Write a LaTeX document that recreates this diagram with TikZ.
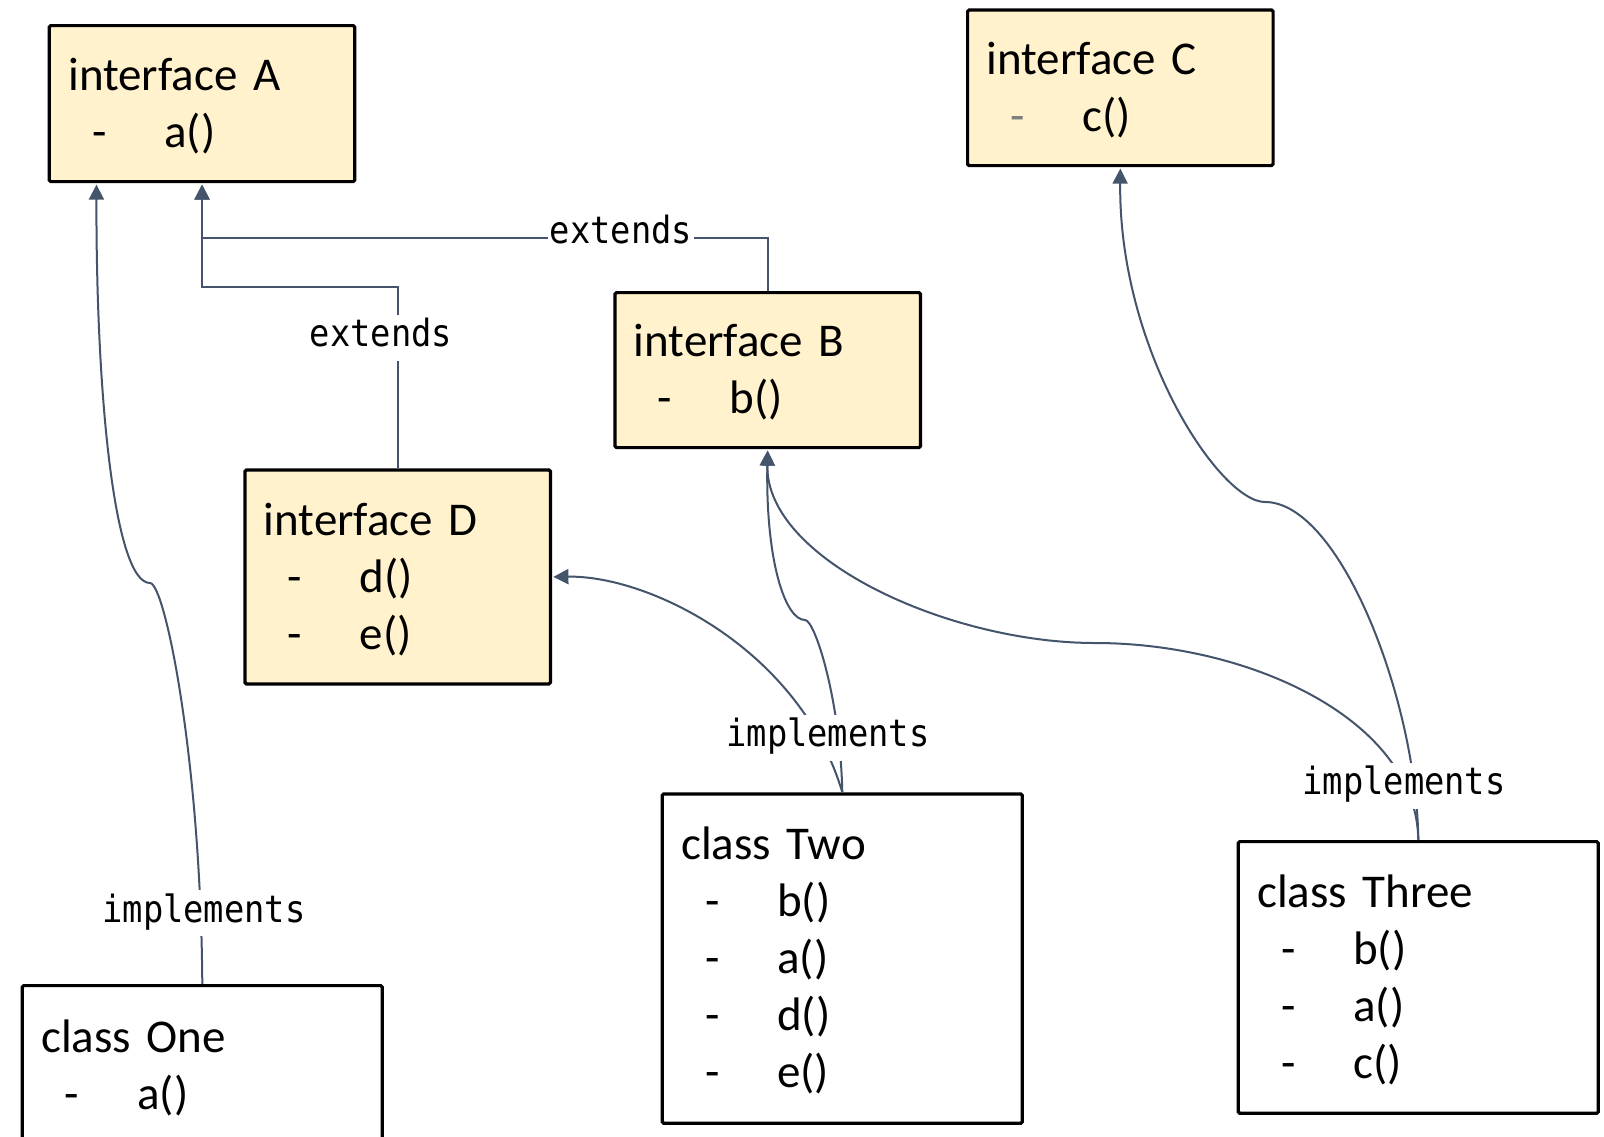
\documentclass[tikz,border=0pt]{standalone}
\usepackage{fontspec}
\setmainfont{Carlito}
\newfontfamily\labelfont[FakeStretch=0.9]{DejaVu Sans Mono}
\usetikzlibrary{arrows.meta,calc}
\definecolor{connc}{HTML}{44546A}
\definecolor{ifill}{HTML}{FFF2CC}
\definecolor{dashgrey}{HTML}{7F7F7F}
% box title, with a strut that sets the first line a little lower
\newcommand\ttl[1]{\rule{0pt}{37pt}#1}
% one method row: a dash, then the method name in its own column
\newcommand\mline[2][black]{\hspace*{23.7pt}\makebox[72.3pt][l]{\textcolor{#1}{-}}#2}

\begin{document}
\begin{tikzpicture}[x=1pt,y=-1pt,
  box/.style={draw=black, line width=3.2pt, rounded corners=1.5pt, anchor=north west,
              align=left, inner xsep=19pt, inner ysep=0pt,
              font=\fontsize{47}{57}\selectfont},
  iface/.style={box, fill=ifill, minimum width=305.5pt, text width=267.5pt},
  klass/.style={box, fill=white, minimum width=360pt, text width=322pt},
  conn/.style={draw=connc, line width=2pt},
  arr/.style={conn, shorten >=1.4pt, -{Triangle[width=15pt,length=15pt]}},
  lbl/.style={fill=white, inner xsep=1.5pt, inner ysep=4.5pt,
              text height=27.75pt, text depth=9.25pt,
              font=\labelfont\fontsize{37.5}{40}\selectfont}]

\useasboundingbox (0,0) rectangle (1604,1136);
\fill[white] (0,0) rectangle (1604,1136);
\clip (0,0) rectangle (1604,1136);

% interfaces
\node[iface, minimum height=156pt]   (A) at (47.7,24)    {\ttl{interface A}\\\mline{a()}};
\node[iface, minimum height=155.7pt] (C) at (966,8.3)    {\ttl{interface C}\\\mline[dashgrey]{c()}};
\node[iface, minimum height=155pt]   (B) at (613.3,291)  {\ttl{interface B}\\\mline{b()}};
\node[iface, minimum height=214pt]   (D) at (243.3,468.3){\ttl{interface D}\\\mline{d()}\\\mline{e()}};

% classes
\node[klass, minimum height=160pt]   (One)   at (20.7,984)    {\ttl{class One}\\\mline{a()}};
\node[klass, minimum height=329.4pt] (Two)   at (660.7,792.3) {\ttl{class Two}\\\mline{b()}\\\mline{a()}\\\mline{d()}\\\mline{e()}};
\node[klass, minimum height=271.7pt] (Three) at (1236.7,840)  {\ttl{class Three}\\\mline{b()}\\\mline{a()}\\\mline{c()}};

\coordinate (A1) at ($(A.south west)!0.158!(A.south east)$);

% extends
\draw[arr] (D.north) |- ($(A.south)+(0,104)$) -- (A.south);
\draw[arr] (B.north) |- ($(A.south)+(0,55)$) -- (A.south);

% implements
\draw[arr] (One.north) .. controls (200.8,760) and (165,583) .. (150,583)
                       .. controls (115,583) and (96,400) .. (A1);
\draw[arr] (Two.north) .. controls (800,650) and (650,575.3) .. (D.east);
\draw[arr] (Two.north) .. controls (840.3,700) and (815,620) .. (805,620)
                       .. controls (785,620) and (765.5,560) .. (B.south);
\draw[arr] (Three.north) .. controls (1416.7,720) and (1250,643) .. (1095,643)
                         .. controls (950,643) and (765.5,560) .. (B.south);
\draw[arr] (Three.north) .. controls (1416.7,700) and (1340,502) .. (1265,502)
                         .. controls (1220,502) and (1118.5,350) .. (C.south);

% connector labels
\node[lbl] (extBA) at (621,234.5) {extends};
\node[lbl] (extDA) at (381,337.5) {extends};
\node[lbl] (impOne)   at (204,913)  {implements};
\node[lbl] (impTwo)   at (828,737.5)  {implements};
\node[lbl] (impThree) at (1404,785.5) {implements};
\end{tikzpicture}
\end{document}
